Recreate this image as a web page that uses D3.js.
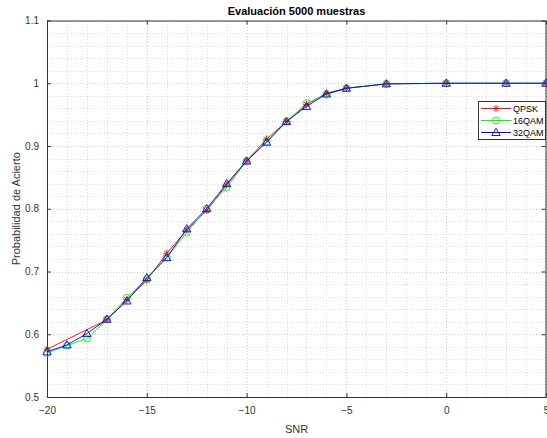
<!DOCTYPE html>
<html>
<head>
<meta charset="utf-8">
<script src="https://cdn.jsdelivr.net/npm/d3@7"></script>
<style>
  body { margin: 0; background: #fff; }
  svg { display: block; font-family: "Liberation Sans", Arial, Helvetica, sans-serif; }
</style>
</head>
<body>
<svg id="chart" width="547" height="438"></svg>
<script>
// SNR values (dB) evaluated for the QAM runs
const snr = [-20, -19, -18, -17, -16, -15, -14, -13, -12, -11, -10, -9, -8, -7, -6, -5, -3, 0, 3, 5];
// SNR values (dB) evaluated for the QPSK run
const snrQpsk = [-20, -17, -16, -15, -14, -13, -12, -11, -10, -9, -8, -7, -6, -5, -3, 0, 3, 5];

// Probability of correct detection for each modulation (5000 samples)
const qpsk  = [0.576, 0.623, 0.655, 0.686, 0.729, 0.766, 0.797, 0.838, 0.876, 0.911, 0.939, 0.966, 0.984, 0.992, 0.999, 1.000, 1.000, 1.000];
const qam16 = [0.570, 0.582, 0.593, 0.624, 0.658, 0.688, 0.723, 0.762, 0.800, 0.834, 0.876, 0.907, 0.939, 0.968, 0.982, 0.992, 0.999, 1.000, 1.000, 1.000];
const qam32 = [0.572, 0.583, 0.601, 0.624, 0.653, 0.690, 0.722, 0.768, 0.800, 0.840, 0.876, 0.906, 0.939, 0.963, 0.983, 0.992, 0.999, 1.000, 1.000, 1.000];

const seriesNames = ["QPSK", "16QAM", "32QAM"];
const xTicks = [-20, -15, -10, -5, 0, 5];
const yTicks = [0.5, 0.6, 0.7, 0.8, 0.9, 1, 1.1];

const svg = d3.select("#chart");
const W = 547, H = 438;
const m = { left: 47, right: 1, top: 20.5, bottom: 41 };
const x = d3.scaleLinear().domain([-20, 5]).range([m.left, W - m.right]);
const y = d3.scaleLinear().domain([0.5, 1.1]).range([H - m.bottom, m.top]);

const axisColor = "#333333";
const g = svg.append("g");

// Minor grid
const minorX = d3.range(-20, 5.001, 1);
const minorY = d3.range(0.5, 1.1001, 0.02);
g.append("g").selectAll("line").data(minorX).join("line")
  .attr("x1", d => Math.round(x(d)) + 0.5).attr("x2", d => Math.round(x(d)) + 0.5)
  .attr("y1", y(0.5)).attr("y2", y(1.1))
  .attr("stroke", "#dcdcdc").attr("stroke-width", 1).attr("stroke-dasharray", "1,2");
g.append("g").selectAll("line").data(minorY).join("line")
  .attr("y1", d => Math.round(y(d)) + 0.5).attr("y2", d => Math.round(y(d)) + 0.5)
  .attr("x1", x(-20)).attr("x2", x(5))
  .attr("stroke", "#dcdcdc").attr("stroke-width", 1).attr("stroke-dasharray", "1,2");
// Major grid
g.append("g").selectAll("line").data(xTicks).join("line")
  .attr("x1", d => Math.round(x(d)) + 0.5).attr("x2", d => Math.round(x(d)) + 0.5)
  .attr("y1", y(0.5)).attr("y2", y(1.1))
  .attr("stroke", "#cccccc").attr("stroke-width", 1).attr("stroke-dasharray", "1,2");
g.append("g").selectAll("line").data(yTicks).join("line")
  .attr("y1", d => Math.round(y(d)) + 0.5).attr("y2", d => Math.round(y(d)) + 0.5)
  .attr("x1", x(-20)).attr("x2", x(5))
  .attr("stroke", "#cccccc").attr("stroke-width", 1).attr("stroke-dasharray", "1,2");

// Axes (box with inward ticks)
const tickLen = 4;
function styleAxis(sel) {
  sel.selectAll("path").attr("stroke", axisColor);
  sel.selectAll("line").attr("stroke", axisColor);
  sel.selectAll("text").attr("fill", axisColor).attr("font-size", 10);
}
const gx = svg.append("g").attr("transform", `translate(0,${y(0.5)})`)
  .call(d3.axisBottom(x).tickValues(xTicks).tickFormat(d3.format("d")).tickSizeInner(-tickLen).tickSizeOuter(0).tickPadding(10));
styleAxis(gx);
const gxTop = svg.append("g").attr("transform", `translate(0,${y(1.1)})`)
  .call(d3.axisTop(x).tickValues(xTicks).tickFormat("").tickSizeInner(-tickLen).tickSizeOuter(0));
styleAxis(gxTop);
const gy = svg.append("g").attr("transform", `translate(${x(-20)},0)`)
  .call(d3.axisLeft(y).tickValues(yTicks).tickFormat(d => d3.format("")(d)).tickSizeInner(-tickLen).tickSizeOuter(0).tickPadding(8));
styleAxis(gy);
const gyRight = svg.append("g").attr("transform", `translate(${x(5) - 0.5},0)`)
  .call(d3.axisRight(y).tickValues(yTicks).tickFormat("").tickSizeInner(-tickLen).tickSizeOuter(0));
styleAxis(gyRight);

// Series
const series = [
  { name: seriesNames[0], xs: snrQpsk, values: qpsk,  color: "#ff0000", marker: "star" },
  { name: seriesNames[1], xs: snr,     values: qam16, color: "#00ff00", marker: "circle" },
  { name: seriesNames[2], xs: snr,     values: qam32, color: "#0000ff", marker: "triangle" }
];

function drawMarker(sel, type, color) {
  if (type === "star") {
    const r = 3.5, d = r * 0.72;
    sel.append("path")
      .attr("d", `M${-r},0L${r},0M0,${-r}L0,${r}M${-d},${-d}L${d},${d}M${-d},${d}L${d},${-d}`)
      .attr("stroke", color).attr("stroke-width", 0.9).attr("fill", "none");
  } else if (type === "circle") {
    sel.append("circle").attr("r", 3.5)
      .attr("stroke", color).attr("stroke-width", 0.9).attr("fill", "none");
  } else {
    sel.append("path").attr("d", "M0,-4.2L4.2,3L-4.2,3Z")
      .attr("stroke", color).attr("stroke-width", 0.9).attr("fill", "none");
  }
}

const line = d3.line().x(d => x(d[0])).y(d => y(d[1]));
series.forEach(s => {
  const pts = s.xs.map((v, i) => [v, s.values[i]]);
  const sg = svg.append("g");
  sg.append("path").datum(pts).attr("d", line)
    .attr("fill", "none").attr("stroke", s.color).attr("stroke-width", 0.9);
  sg.selectAll("g.mk").data(pts).join("g").attr("class", "mk")
    .attr("transform", d => `translate(${x(d[0])},${y(d[1])})`)
    .each(function () { drawMarker(d3.select(this), s.marker, s.color); });
});

// Legend
const lg = svg.append("g").attr("transform", "translate(478,101)");
lg.append("rect").attr("x", 0.5).attr("y", 0.5).attr("width", 67).attr("height", 38)
  .attr("fill", "#fff").attr("stroke", axisColor).attr("stroke-width", 1);
series.forEach((s, i) => {
  const cy = 7.5 + i * 12;
  const eg = lg.append("g").attr("transform", `translate(0,${cy})`);
  eg.append("line").attr("x1", 3).attr("x2", 33).attr("y1", 0).attr("y2", 0)
    .attr("stroke", s.color).attr("stroke-width", 1);
  const mg = eg.append("g").attr("transform", "translate(18,0)");
  drawMarker(mg, s.marker, s.color);
  eg.append("text").attr("x", 35).attr("y", 0).attr("dy", "0.35em")
    .attr("font-size", 9).attr("fill", "#000").text(s.name);
});

// Title and axis labels
svg.append("text").attr("x", (x(-20) + x(5)) / 2).attr("y", 15)
  .attr("text-anchor", "middle").attr("font-size", 11).attr("font-weight", "bold")
  .attr("fill", "#000").text("Evaluación 5000 muestras");
svg.append("text").attr("x", (x(-20) + x(5)) / 2).attr("y", 433)
  .attr("text-anchor", "middle").attr("font-size", 11).attr("fill", axisColor).text("SNR");
svg.append("text").attr("transform", `translate(20,${(y(0.5) + y(1.1)) / 2}) rotate(-90)`)
  .attr("text-anchor", "middle").attr("font-size", 11).attr("fill", axisColor).text("Probabilidad de Acierto");
</script>
</body>
</html>
